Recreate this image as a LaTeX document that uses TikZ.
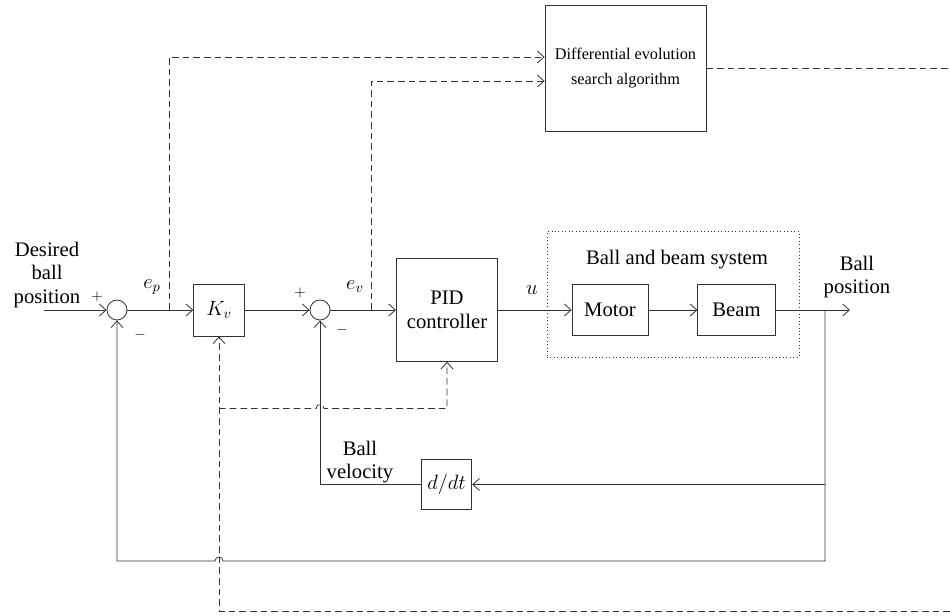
\documentclass[tikz,border=0pt]{standalone}
\usepackage{fix-cm}
\usepackage{amsmath}
\usepackage{fontspec}
\setmainfont{Liberation Serif}
\usetikzlibrary{positioning, arrows.meta}

\begin{document}
\begin{tikzpicture}[
    x=0.75pt, y=-0.75pt,
    font=\fontsize{15.5}{17.5}\selectfont,
    line width=0.6pt, black!80,
    block/.style={draw, rectangle, align=center, inner sep=0pt, text=black},
    sum/.style={draw, circle, minimum size=15pt, inner sep=0pt},
    arrow/.style={-{Straight Barb[length=5pt, width=9pt]}},
    dline/.style={dash pattern=on 5pt off 3pt},
    lbl/.style={align=center, inner sep=1pt, text=black},
    sgn/.style={inner sep=0pt, text=black, font=\fontsize{11}{12}\selectfont}
]
    \useasboundingbox (0,0) rectangle (950,616);

    % forward path
    \coordinate (in) at (44,310);
    \node[sum] (s1) at (117,310) {};
    \node[block, minimum width=38pt, minimum height=39pt] (kv) at (219,310) {$K_v$};
    \node[sum] (s2) at (320,310) {};
    \node[block, minimum width=76pt, minimum height=77pt] (pid) at (447,310) {PID\\controller};
    \node[block, minimum width=57pt, minimum height=38pt] (motor) at (610,310) {Motor};
    \node[block, minimum width=58pt, minimum height=38pt] (beam) at (736.5,310) {Beam};
    \coordinate (out) at (850,310);
    \node[block, minimum width=38pt, minimum height=38pt] (ddt) at (446.5,484.5) {$d/dt$};
    \node[block, minimum width=120.75pt, minimum height=94.5pt,
          font=\fontsize{12.2}{18.5}\selectfont] (de) at (625.5,68) {Differential evolution\\search algorithm};
    \node[draw, dotted, minimum width=189pt, minimum height=94pt] (sys) at (673,294.5) {};
    \node[lbl] (syslbl) at (677,260) {Ball and beam system};

    % labels
    \node[lbl] (inlbl) at (47,275) {Desired\\ball\\position};
    \node[lbl] (outlbl) at (857,277) {Ball\\position};
    \node[lbl] (vellbl) at (360,462) {Ball\\velocity};
    \node[lbl] (ep) at (152,287) {$e_p$};
    \node[lbl] (ev) at (355,287) {$e_v$};
    \node[lbl] (u) at (532,290) {$u$};
    \node[sgn] (p1) at (97,297) {$+$};
    \node[sgn] (m1) at (140,335) {$-$};
    \node[sgn] (p2) at (300,293) {$+$};
    \node[sgn] (m2) at (342,330) {$-$};

    \draw[arrow] (in) -- (s1);
    \draw[arrow] (s1) -- (kv);
    \draw[arrow] (kv) -- (s2);
    \draw[arrow] (s2) -- (pid);
    \draw[arrow] (pid) -- (motor);
    \draw[arrow] (motor) -- (beam);
    \draw[arrow] (beam) -- (out);

    % feedback
    \coordinate (bp) at (825,310);
    \coordinate (fb) at (825,561);
    \coordinate (hop1) at (223,561);
    \draw[arrow] (bp |- ddt) -- (ddt);
    \draw[arrow] (ddt) -| (s2);
    \draw[arrow] (bp) -- (fb) -- (hop1) arc[start angle=0, end angle=180, radius=3pt] -- (s1 |- fb) -- (s1);

    % tuning signals
    \coordinate (epb) at (169,310);
    \coordinate (ept) at (169,57);
    \coordinate (evb) at (371,310);
    \coordinate (evt) at (371,81);
    \coordinate (deout) at (950,68);
    \draw[dline, arrow] (epb) -- (ept) -- (ept -| de.west);
    \draw[dline, arrow] (evb) -- (evt) -- (evt -| de.west);
    \draw[dline] (de) -- (deout);

    \coordinate (dbot) at (950,611);
    \coordinate (dcorner) at (219,611);
    \coordinate (pj) at (219,408.5);
    \coordinate (hop2) at (316,408.5);
    \draw[dline, arrow] (dbot) -- (dcorner) -- (kv);
    \draw[dline, arrow] (pj) -- (hop2) arc[start angle=180, end angle=0, radius=3pt] -- (pid.south |- pj) -- (pid);
\end{tikzpicture}
\end{document}
